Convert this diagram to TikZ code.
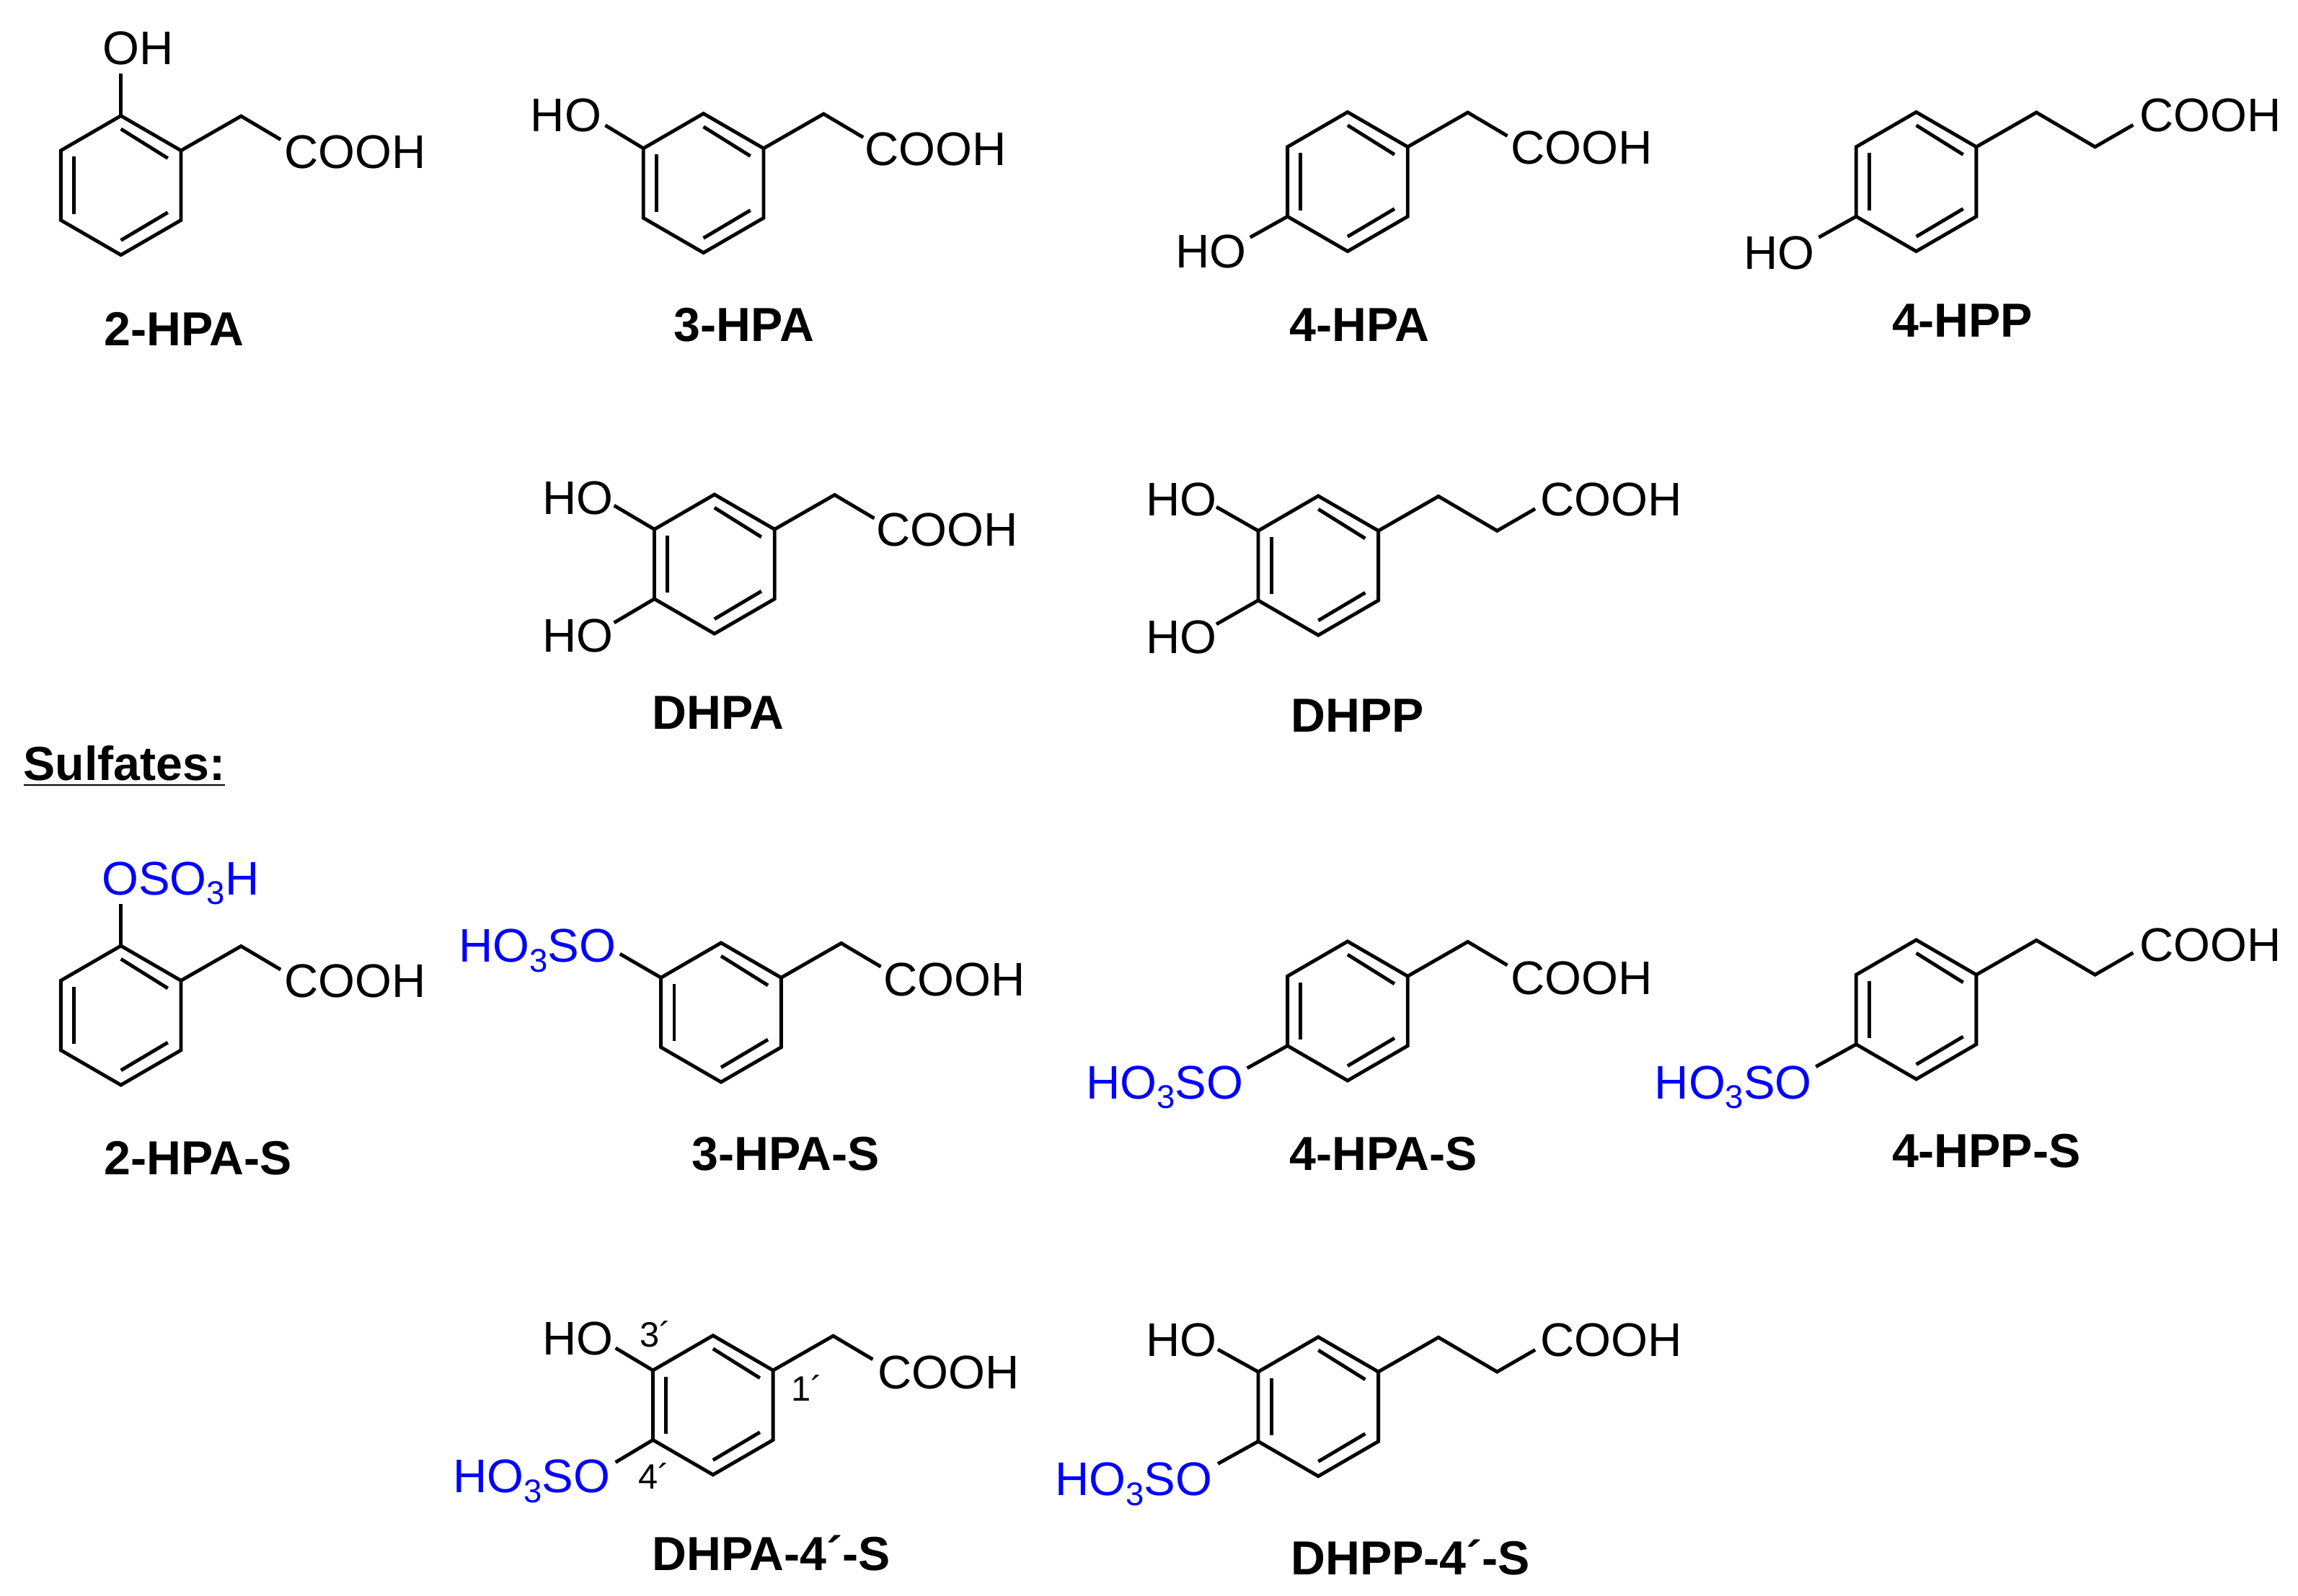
\documentclass[tikz,border=0pt]{standalone}
\usepackage{fontspec}
\setmainfont{Liberation Sans}
\definecolor{sulf}{RGB}{0,0,255}
\newcommand{\SubT}{\raisebox{-3.3pt}{\fontsize{11.2}{11}\selectfont 3}}
\tikzset{
  bond/.style={line width=1.2pt,black,line join=miter,line cap=butt},
  atom/.style={inner sep=0pt,outer sep=0pt,anchor=base west,yshift=-5.4pt,font=\fontsize{16.1}{18}\selectfont,text=black},
  sulfo/.style={atom,text=sulf},
  title/.style={atom,font=\fontsize{16.3}{18}\selectfont\bfseries},
  numlab/.style={inner sep=0pt,outer sep=0pt,anchor=base west,yshift=-4.1pt,font=\fontsize{12}{13}\selectfont,text=black}
}
% ring: name, centre x, centre y
\newcommand{\Ring}[3]{%
  \begin{scope}[shift={(#2,#3)}]
    \coordinate (#1-t) at (0,-47.5);
    \coordinate (#1-ur) at (41,-23.75);
    \coordinate (#1-lr) at (41,23.75);
    \coordinate (#1-b) at (0,47.5);
    \coordinate (#1-ll) at (-41,23.75);
    \coordinate (#1-ul) at (-41,-23.75);
    \coordinate (#1-i1) at (-32,-19.5);
    \coordinate (#1-i2) at (-32,19.5);
    \coordinate (#1-i3) at (0,-38.5);
    \coordinate (#1-i4) at (32,-18.5);
    \coordinate (#1-i5) at (32,18.5);
    \coordinate (#1-i6) at (0,37.5);
    \draw[bond] (#1-t) -- (#1-ur) -- (#1-lr) -- (#1-b) -- (#1-ll) -- (#1-ul) -- cycle;
    \draw[bond] (#1-i1) -- (#1-i2);
    \draw[bond] (#1-i3) -- (#1-i4);
    \draw[bond] (#1-i5) -- (#1-i6);
  \end{scope}}
% CH2-COOH: name, text x, text y
\newcommand{\Acetic}[3]{%
  \coordinate (#1-a) at ([shift={(41,-23.5)}]#1-ur);
  \coordinate (#1-e) at ([shift={(27,16)}]#1-a);
  \draw[bond] (#1-ur) -- (#1-a) -- (#1-e);
  \node[atom] (#1-cooh) at (#2,#3) {COOH};}
% CH2-CH2-COOH: name, text x, text y
\newcommand{\Propionic}[3]{%
  \coordinate (#1-a) at ([shift={(41,-23.5)}]#1-ur);
  \coordinate (#1-c) at ([shift={(40,23.5)}]#1-a);
  \coordinate (#1-e) at ([shift={(26,-15)}]#1-c);
  \draw[bond] (#1-ur) -- (#1-a) -- (#1-c) -- (#1-e);
  \node[atom] (#1-cooh) at (#2,#3) {COOH};}
% substituent bond: name, ring vertex, end x, end y
\newcommand{\Sbond}[4]{%
  \coordinate (#1-#2x) at (#3,#4);
  \draw[bond] (#1-#2) -- (#1-#2x);}
\begin{document}
\begin{tikzpicture}[x=0.5pt,y=-0.5pt]
\useasboundingbox (0,0) rectangle (1568,1088.8);

% --- 2-HPA
\Ring{a}{82.5}{126.5}
\Acetic{a}{194}{104}
\Sbond{a}{t}{82.5}{50}
\node[atom] (a-oh) at (70,33) {OH};
\node[title] (a-name) at (71,225) {2-HPA};

% --- 3-HPA
\Ring{b}{480}{125}
\Acetic{b}{590}{102}
\Sbond{b}{ul}{413}{85.5}
\node[atom] (b-oh) at (362,79) {HO};
\node[title] (b-name) at (460,222) {3-HPA};

% --- 4-HPA
\Ring{c}{919.5}{124}
\Acetic{c}{1031}{101}
\Sbond{c}{ll}{853}{162}
\node[atom] (c-oh) at (802,172) {HO};
\node[title] (c-name) at (880,222) {4-HPA};

% --- 4-HPP
\Ring{d}{1307.5}{124}
\Propionic{d}{1460}{79}
\Sbond{d}{ll}{1241}{162}
\node[atom] (d-oh) at (1190,173) {HO};
\node[title] (d-name) at (1291,219) {4-HPP};

% --- DHPA
\Ring{e}{487.5}{385}
\Acetic{e}{598}{362}
\Sbond{e}{ul}{419}{345}
\Sbond{e}{ll}{419}{425}
\node[atom] (e-oh1) at (370,340) {HO};
\node[atom] (e-oh2) at (370,434) {HO};
\node[title] (e-name) at (445,487) {DHPA};

% --- DHPP
\Ring{f}{899.5}{386}
\Propionic{f}{1051}{341}
\Sbond{f}{ul}{830}{346}
\Sbond{f}{ll}{830}{426}
\node[atom] (f-oh1) at (782,341) {HO};
\node[atom] (f-oh2) at (782,435) {HO};
\node[title] (f-name) at (881,489) {DHPP};

% --- heading
\node[title] (sulfates) at (16,522) {\underline{Sulfates:}};

% --- 2-HPA-S
\Ring{g}{82.5}{693}
\Acetic{g}{194}{670}
\Sbond{g}{t}{82.5}{617}
\node[sulfo] (g-o) at (69.5,600) {OSO\SubT H};
\node[title] (g-name) at (71,791) {2-HPA-S};

% --- 3-HPA-S
\Ring{h}{492}{691}
\Acetic{h}{603}{669}
\Sbond{h}{ul}{423}{651}
\node[sulfo] (h-o) at (313,646) {HO\SubT SO};
\node[title] (h-name) at (472,788) {3-HPA-S};

% --- 4-HPA-S
\Ring{i}{919.5}{690}
\Acetic{i}{1031}{668}
\Sbond{i}{ll}{851}{729}
\node[sulfo] (i-o) at (741,739) {HO\SubT SO};
\node[title] (i-name) at (880,788) {4-HPA-S};

% --- 4-HPP-S
\Ring{j}{1307.5}{689}
\Propionic{j}{1460}{645.5}
\Sbond{j}{ll}{1239}{728}
\node[sulfo] (j-o) at (1129,739) {HO\SubT SO};
\node[title] (j-name) at (1291,786) {4-HPP-S};

% --- DHPA-4'-S
\Ring{k}{486.5}{959}
\Acetic{k}{599}{937}
\Sbond{k}{ul}{420}{920}
\Sbond{k}{ll}{420}{998}
\node[atom] (k-oh) at (370,914) {HO};
\node[sulfo] (k-o) at (309,1008) {HO\SubT SO};
\node[numlab] (k-n3) at (436.5,911) {3´};
\node[numlab] (k-n1) at (540,948) {1´};
\node[numlab] (k-n4) at (435.5,1008) {4´};
\node[title] (k-name) at (445,1061) {DHPA-4´-S};

% --- DHPP-4'-S
\Ring{l}{899.5}{960}
\Propionic{l}{1051}{915}
\Sbond{l}{ul}{831}{921}
\Sbond{l}{ll}{831}{999}
\node[atom] (l-oh) at (782,915) {HO};
\node[sulfo] (l-o) at (720,1010) {HO\SubT SO};
\node[title] (l-name) at (881,1064) {DHPP-4´-S};
\end{tikzpicture}
\end{document}
